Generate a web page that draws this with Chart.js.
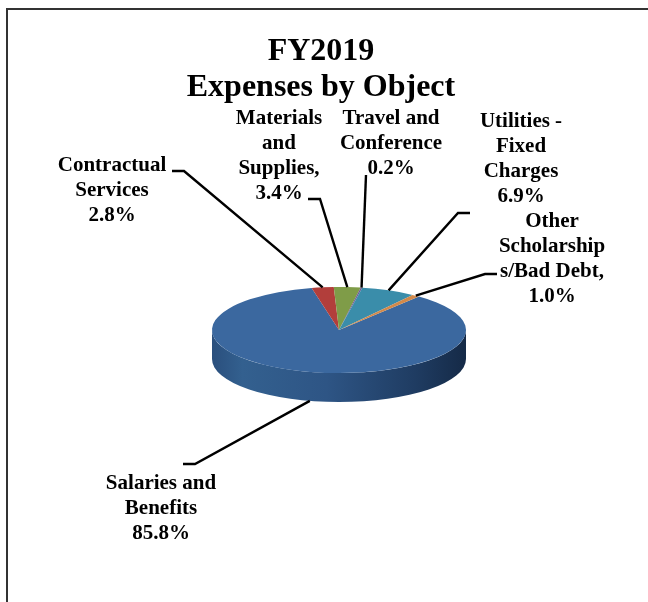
<!DOCTYPE html>
<html>
<head>
<meta charset="utf-8">
<title>FY2019 Expenses by Object</title>
<script src="https://cdn.jsdelivr.net/npm/chart.js@4"></script>
<style>
    html, body { margin: 0; padding: 0; background: #fff; overflow: hidden; }
    #wrap { position: relative; width: 648px; height: 602px; }
</style>
</head>
<body>
<div id="wrap"><canvas id="pie" width="648" height="602"></canvas></div>
<script>
const titleLines = ['FY2019', 'Expenses by Object']
const categories = ['Salaries and Benefits', 'Contractual Services', 'Materials and Supplies',
    'Travel and Conference', 'Utilities - Fixed Charges', 'Other Scholarships/Bad Debt']
const values = [85.8, 2.8, 3.4, 0.2, 6.9, 1.0]
const labelLines = [
    ['Salaries and', 'Benefits', '85.8%'],
    ['Contractual', 'Services', '2.8%'],
    ['Materials', 'and', 'Supplies,', '3.4%'],
    ['Travel and', 'Conference', '0.2%'],
    ['Utilities -', 'Fixed', 'Charges', '6.9%'],
    ['Other', 'Scholarship', 's/Bad Debt,', '1.0%']
]

const sliceColors = ['#3b689f', '#b23e3b', '#7f9c48', '#6f5a94', '#3a8daa', '#d2894a']
// where each label sits, and the elbow of its leader line
const labelPlace = [
    { x: 161, y: 484, bend: [[183, 464], [195, 464]] },
    { x: 112, y: 166, bend: [[172, 171], [184, 171]] },
    { x: 279, y: 119, bend: [[308, 199], [320, 199]] },
    { x: 391, y: 119, bend: [[366, 175]] },
    { x: 521, y: 122, bend: [[470, 213], [458, 213]] },
    { x: 552, y: 222, bend: [[497, 274], [485, 274]] }
]
const squash = 0.339    // how flat the pie looks
const depth = 29        // height of the side wall
const serif = '"Liberation Serif", "Times New Roman", serif'

const pie3d = {
    id: 'pie3d',
    beforeDatasetsDraw(chart) {
        const arc = chart.getDatasetMeta(0).data[0]
        const { x, y, outerRadius: r } = arc.getProps(['x', 'y', 'outerRadius'], true)
        const c = chart.ctx
        const ry = r * squash

        // side wall, lower half of the disc pushed down
        const g = c.createLinearGradient(x - r, 0, x + r, 0)
        g.addColorStop(0, '#2a4f7d')
        g.addColorStop(0.12, '#33608f')
        g.addColorStop(0.45, '#2e5585')
        g.addColorStop(0.8, '#1f3c62')
        g.addColorStop(1, '#152a47')
        c.save()
        c.beginPath()
        c.ellipse(x, y, r, ry, 0, Math.PI, 0, true)
        c.lineTo(x + r, y + depth)
        c.ellipse(x, y + depth, r, ry, 0, 0, Math.PI, false)
        c.closePath()
        c.fillStyle = g
        c.fill()
        c.restore()

        c.save()
        c.translate(x, y)
        c.scale(1, squash)
        c.translate(-x, -y)
    },
    afterDatasetsDraw(chart) {
        chart.ctx.restore()
    },
    afterDraw(chart) {
        const c = chart.ctx
        const meta = chart.getDatasetMeta(0)

        // frame: only top and left edges are visible in the picture
        c.save()
        c.strokeStyle = '#333'
        c.lineWidth = 2
        c.beginPath()
        c.moveTo(7, 602)
        c.lineTo(7, 9)
        c.lineTo(648, 9)
        c.stroke()
        c.restore()

        c.save()
        c.fillStyle = '#000'
        c.textAlign = 'center'
        c.textBaseline = 'middle'
        c.font = 'bold 32px ' + serif
        titleLines.forEach((t, i) => c.fillText(t, 321, 52 + i * 36))

        c.font = 'bold 21px ' + serif
        meta.data.forEach((arc, i) => {
            const p = arc.getProps(['x', 'y', 'startAngle', 'endAngle', 'outerRadius'], true)
            const mid = (p.startAngle + p.endAngle) / 2
            let ex = p.x + Math.cos(mid) * p.outerRadius
            let ey = p.y + Math.sin(mid) * p.outerRadius * squash
            if (Math.sin(mid) > 0) ey += depth

            const place = labelPlace[i]
            c.strokeStyle = '#000'
            c.lineWidth = 2.4
            c.beginPath()
            place.bend.forEach((b, j) => j ? c.lineTo(b[0], b[1]) : c.moveTo(b[0], b[1]))
            c.lineTo(ex, ey)
            c.stroke()

            labelLines[i].forEach((t, j) => c.fillText(t, place.x, place.y + j * 24.7))
        })
        c.restore()
    }
}

new Chart(document.querySelector('#pie'), {
    type: 'pie',
    data: {
        labels: categories,
        datasets: [{
            data: values,
            backgroundColor: sliceColors,
            borderWidth: 0
        }]
    },
    options: {
        responsive: false,
        animation: false,
        rotation: 39,
        layout: { padding: { left: 212, right: 182, top: 203, bottom: 145 } },
        plugins: {
            legend: { display: false },
            tooltip: { enabled: false }
        }
    },
    plugins: [pie3d]
})
</script>
</body>
</html>
